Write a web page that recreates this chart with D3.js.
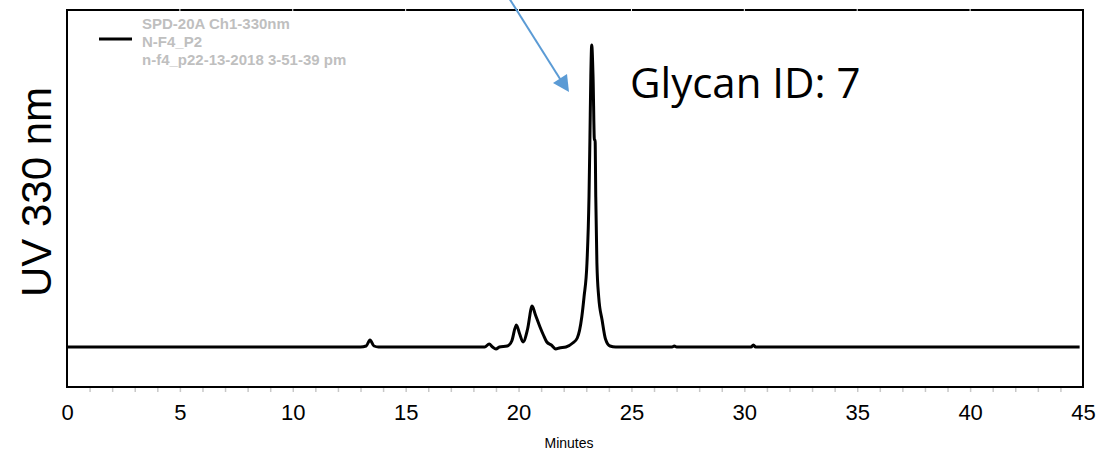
<!DOCTYPE html>
<html>
<head>
<meta charset="utf-8">
<script src="https://cdn.jsdelivr.net/npm/d3@7"></script>
<style>
  body { margin: 0; background: #fff; }
  svg { display: block; }
</style>
</head>
<body>
<div id="chart"></div>
<script>
// retention time (min) and detector response (mV, baseline = 0)
const traceTimes = [0, 13.0, 13.25, 13.42, 13.6, 13.8, 18.5, 18.7, 18.85, 19.0, 19.15, 19.5, 19.7, 19.9, 20.05,
  20.2, 20.4, 20.6, 20.75, 20.95, 21.1, 21.25, 21.45, 21.65, 21.8, 22.1, 22.4, 22.6, 22.8, 22.9, 23.03,
  23.12, 23.16, 23.2, 23.24, 23.3, 23.36, 23.39, 23.42, 23.47, 23.55, 23.7, 23.85, 24.05, 24.3,
  26.8, 26.9, 27.0, 30.3, 30.4, 30.5, 44.85];
const traceValues = [0, 0, 1, 7, 1, 0, 0, 3, 0, -2, 0, 1, 6, 22, 13,
  5, 18, 41, 32, 20, 12, 5, 2, -2, -1, 0, 4, 9, 30, 50, 84,
  150, 207, 270, 302, 270, 207, 207, 150, 84, 50, 27, 8, 1, 0,
  0, 1, 0, 0, 2, 0, 0];

const xMajorTicks = [0, 5, 10, 15, 20, 25, 30, 35, 40, 45];
const xMinorTicks = d3.range(1, 45);
const legendLines = ["SPD-20A Ch1-330nm", "N-F4_P2", "n-f4_p22-13-2018 3-51-39 pm"];

const width = 1102, height = 452;
const margin = { top: 10, right: 19, bottom: 65, left: 67 };

const svg = d3.select("#chart").append("svg")
  .attr("width", width)
  .attr("height", height);

const x = d3.scaleLinear().domain([0, 45]).range([margin.left, width - margin.right]);
const y = d3.scaleLinear().domain([-40, 337]).range([height - margin.bottom, margin.top]);

// minor ticks under the frame
svg.append("g")
  .attr("transform", `translate(0,${height - margin.bottom})`)
  .call(d3.axisBottom(x).tickValues(xMinorTicks).tickSize(5).tickFormat(""))
  .call(g => g.select(".domain").remove())
  .call(g => g.selectAll(".tick line").attr("stroke", "#c8c8c8").attr("stroke-width", 1.5));

// major tick labels
svg.append("g")
  .attr("transform", `translate(0,${height - margin.bottom})`)
  .call(d3.axisBottom(x).tickValues(xMajorTicks).tickSize(0).tickPadding(17).tickFormat(d3.format("d")))
  .call(g => g.select(".domain").remove())
  .call(g => g.selectAll("text")
    .attr("fill", "#000")
    .style("font", "22px 'Liberation Sans', Arial, sans-serif"));

// frame
svg.append("rect")
  .attr("x", x(0))
  .attr("y", margin.top)
  .attr("width", x(45) - x(0))
  .attr("height", height - margin.bottom - margin.top)
  .attr("fill", "none")
  .attr("stroke", "#000")
  .attr("stroke-width", 2);

// faint breaks in the top border at major ticks
svg.append("g")
  .selectAll("line")
  .data(xMajorTicks.slice(1, -1))
  .join("line")
  .attr("x1", d => x(d)).attr("x2", d => x(d))
  .attr("y1", margin.top - 1.5).attr("y2", margin.top + 1.5)
  .attr("stroke", "#fff")
  .attr("stroke-width", 1);

// trace
const line = d3.line()
  .x((d, i) => x(traceTimes[i]))
  .y(d => y(d))
  .curve(d3.curveMonotoneX);

svg.append("path")
  .datum(traceValues)
  .attr("fill", "none")
  .attr("stroke", "#000")
  .attr("stroke-width", 3)
  .attr("stroke-linejoin", "round")
  .attr("d", line);

// legend
const legend = svg.append("g");
legend.append("line")
  .attr("x1", 99).attr("x2", 132)
  .attr("y1", 39).attr("y2", 39)
  .attr("stroke", "#000")
  .attr("stroke-width", 3);
legend.selectAll("text")
  .data(legendLines)
  .join("text")
  .attr("x", 142)
  .attr("y", (d, i) => 29 + i * 18)
  .attr("fill", "#bfbfbf")
  .style("font", "bold 15px 'Liberation Sans', Arial, sans-serif")
  .text(d => d);

// axis titles
svg.append("text")
  .attr("x", x(22.5) - 6)
  .attr("y", 448)
  .attr("text-anchor", "middle")
  .style("font", "14px 'Liberation Sans', Arial, sans-serif")
  .text("Minutes");

svg.append("text")
  .attr("transform", "translate(51,192) rotate(-90)")
  .attr("text-anchor", "middle")
  .style("font", "42px 'Liberation Sans', Arial, sans-serif")
  .text("UV 330 nm");

// annotation
svg.append("text")
  .attr("x", 630)
  .attr("y", 98)
  .style("font", "42px 'Open Sans', sans-serif")
  .text("Glycan ID: 7");

const arrowColor = "#5b9bd5";
svg.append("line")
  .attr("x1", 509).attr("y1", -2)
  .attr("x2", 562).attr("y2", 82)
  .attr("stroke", arrowColor)
  .attr("stroke-width", 2);
svg.append("path")
  .attr("d", "M569,92 L553,83 L567,74 Z")
  .attr("fill", arrowColor);
</script>
</body>
</html>
